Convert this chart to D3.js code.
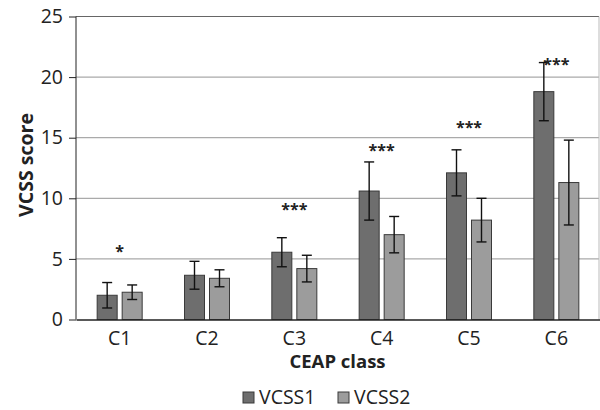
<!DOCTYPE html>
<html>
<head>
<meta charset="utf-8">
<script src="https://cdn.jsdelivr.net/npm/d3@7/dist/d3.min.js"></script>
<style>
  body { margin: 0; background: #fff; }
  svg text { font-family: "Open Sans", "Noto Sans", sans-serif; fill: #222; }
</style>
</head>
<body>
<svg id="chart" width="600" height="410"></svg>
<script>
// CEAP classes and VCSS scores (mean, sd)
var classes = ['C1', 'C2', 'C3', 'C4', 'C5', 'C6'];
var series = ['VCSS1', 'VCSS2'];
var vcss1Mean = [2.0, 3.65, 5.55, 10.6, 12.1, 18.8];
var vcss1Sd   = [1.05, 1.15, 1.2, 2.4, 1.9, 2.4];
var vcss2Mean = [2.25, 3.4, 4.2, 7.0, 8.2, 11.3];
var vcss2Sd   = [0.6, 0.7, 1.1, 1.5, 1.8, 3.5];
// significance marks and the score level where they sit
var sigLabel = ['*', '', '***', '***', '***', '***'];
var sigLevel = [5.9, 0, 9.4, 14.2, 16.1, 21.3];
var yTicks = [0, 5, 10, 15, 20, 25];

var colors = { VCSS1: '#6e6e6e', VCSS2: '#9c9c9c' };

var svg = d3.select('#chart');
var plotL = 76, plotR = 599, plotT = 16.5, plotB = 319.5;

var y = d3.scaleLinear().domain([0, 25]).range([plotB, plotT]);
var x0 = d3.scaleBand().domain(classes).range([plotL, plotR + 1]).padding(0);
var x1 = d3.scaleBand().domain(series).range([0, 45]).paddingInner(0.2);

var data = classes.map(function(c, i) {
  return {
    cls: c,
    values: [
      { key: 'VCSS1', mean: vcss1Mean[i], sd: vcss1Sd[i] },
      { key: 'VCSS2', mean: vcss2Mean[i], sd: vcss2Sd[i] }
    ]
  };
});

// gridlines
svg.append('g')
  .selectAll('line')
  .data(yTicks.filter(function(t) { return t > 0; }))
  .enter().append('line')
  .attr('x1', plotL).attr('x2', plotR)
  .attr('y1', function(d) { return y(d); })
  .attr('y2', function(d) { return y(d); })
  .attr('stroke', function(d) { return d === 25 ? '#666' : '#aaa'; })
  .attr('stroke-width', 1.2);

// right frame line
svg.append('line')
  .attr('x1', plotR).attr('x2', plotR)
  .attr('y1', y(25)).attr('y2', y(0))
  .attr('stroke', '#bbb');

// bars
var groups = svg.append('g')
  .selectAll('g')
  .data(data)
  .enter().append('g')
  .attr('transform', function(d) {
    return 'translate(' + (x0(d.cls) + x0.bandwidth() / 2 - 22.5) + ',0)';
  });

groups.selectAll('rect')
  .data(function(d) { return d.values; })
  .enter().append('rect')
  .attr('x', function(d) { return x1(d.key); })
  .attr('width', x1.bandwidth())
  .attr('y', function(d) { return y(d.mean); })
  .attr('height', function(d) { return y(0) - y(d.mean); })
  .attr('fill', function(d) { return colors[d.key]; })
  .attr('stroke', '#3a3a3a')
  .attr('stroke-width', 1);

// error bars
var err = groups.selectAll('g.err')
  .data(function(d) { return d.values; })
  .enter().append('g')
  .attr('class', 'err')
  .attr('stroke', '#111')
  .attr('stroke-width', 1.4);

err.append('line')
  .attr('x1', function(d) { return x1(d.key) + x1.bandwidth() / 2; })
  .attr('x2', function(d) { return x1(d.key) + x1.bandwidth() / 2; })
  .attr('y1', function(d) { return y(d.mean + d.sd); })
  .attr('y2', function(d) { return y(d.mean - d.sd); });
[1, -1].forEach(function(s) {
  err.append('line')
    .attr('x1', function(d) { return x1(d.key) + x1.bandwidth() / 2 - 5; })
    .attr('x2', function(d) { return x1(d.key) + x1.bandwidth() / 2 + 5; })
    .attr('y1', function(d) { return y(d.mean + s * d.sd); })
    .attr('y2', function(d) { return y(d.mean + s * d.sd); });
});

// significance stars
svg.append('g')
  .selectAll('text')
  .data(classes)
  .enter().append('text')
  .attr('x', function(d) { return x0(d) + x0.bandwidth() / 2; })
  .attr('y', function(d, i) { return y(sigLevel[i]) + 9; })
  .attr('text-anchor', 'middle')
  .style('font-size', '16px')
  .style('font-weight', 'bold')
  .text(function(d, i) { return sigLabel[i]; });

// axes
var yAxis = svg.append('g')
  .attr('transform', 'translate(' + plotL + ',0)')
  .call(d3.axisLeft(y).tickValues(yTicks).tickSize(7).tickPadding(6));
yAxis.selectAll('text').style('font-size', '19.5px').attr('fill', '#222');
yAxis.selectAll('line').attr('stroke', '#222');
yAxis.select('.domain').attr('stroke', '#222').attr('d', 'M0,' + y(25) + 'V' + y(0));

var xAxis = svg.append('g')
  .attr('transform', 'translate(0,' + plotB + ')')
  .call(d3.axisBottom(x0).tickSize(0).tickPadding(12));
xAxis.selectAll('text').style('font-size', '19.5px').attr('fill', '#222');
xAxis.select('.domain').attr('stroke', '#222').attr('stroke-width', 1.3);

// axis titles
svg.append('text')
  .attr('x', (plotL + plotR) / 2)
  .attr('y', 368)
  .attr('text-anchor', 'middle')
  .style('font-size', '18.5px')
  .style('font-weight', 'bold')
  .text('CEAP class');

svg.append('text')
  .attr('transform', 'translate(33,' + ((plotT + plotB) / 2 - 3) + ') rotate(-90)')
  .attr('text-anchor', 'middle')
  .style('font-size', '19.5px')
  .style('font-weight', 'bold')
  .text('VCSS score');

// legend
var legend = svg.append('g')
  .selectAll('g')
  .data(series)
  .enter().append('g')
  .attr('transform', function(d, i) { return 'translate(' + (243 + i * 95) + ',392)'; });
legend.append('rect')
  .attr('width', 11).attr('height', 11)
  .attr('fill', function(d) { return colors[d]; })
  .attr('stroke', '#3a3a3a');
legend.append('text')
  .attr('x', 16)
  .attr('y', 12)
  .style('font-size', '19.5px')
  .text(function(d) { return d; });
</script>
</body>
</html>
